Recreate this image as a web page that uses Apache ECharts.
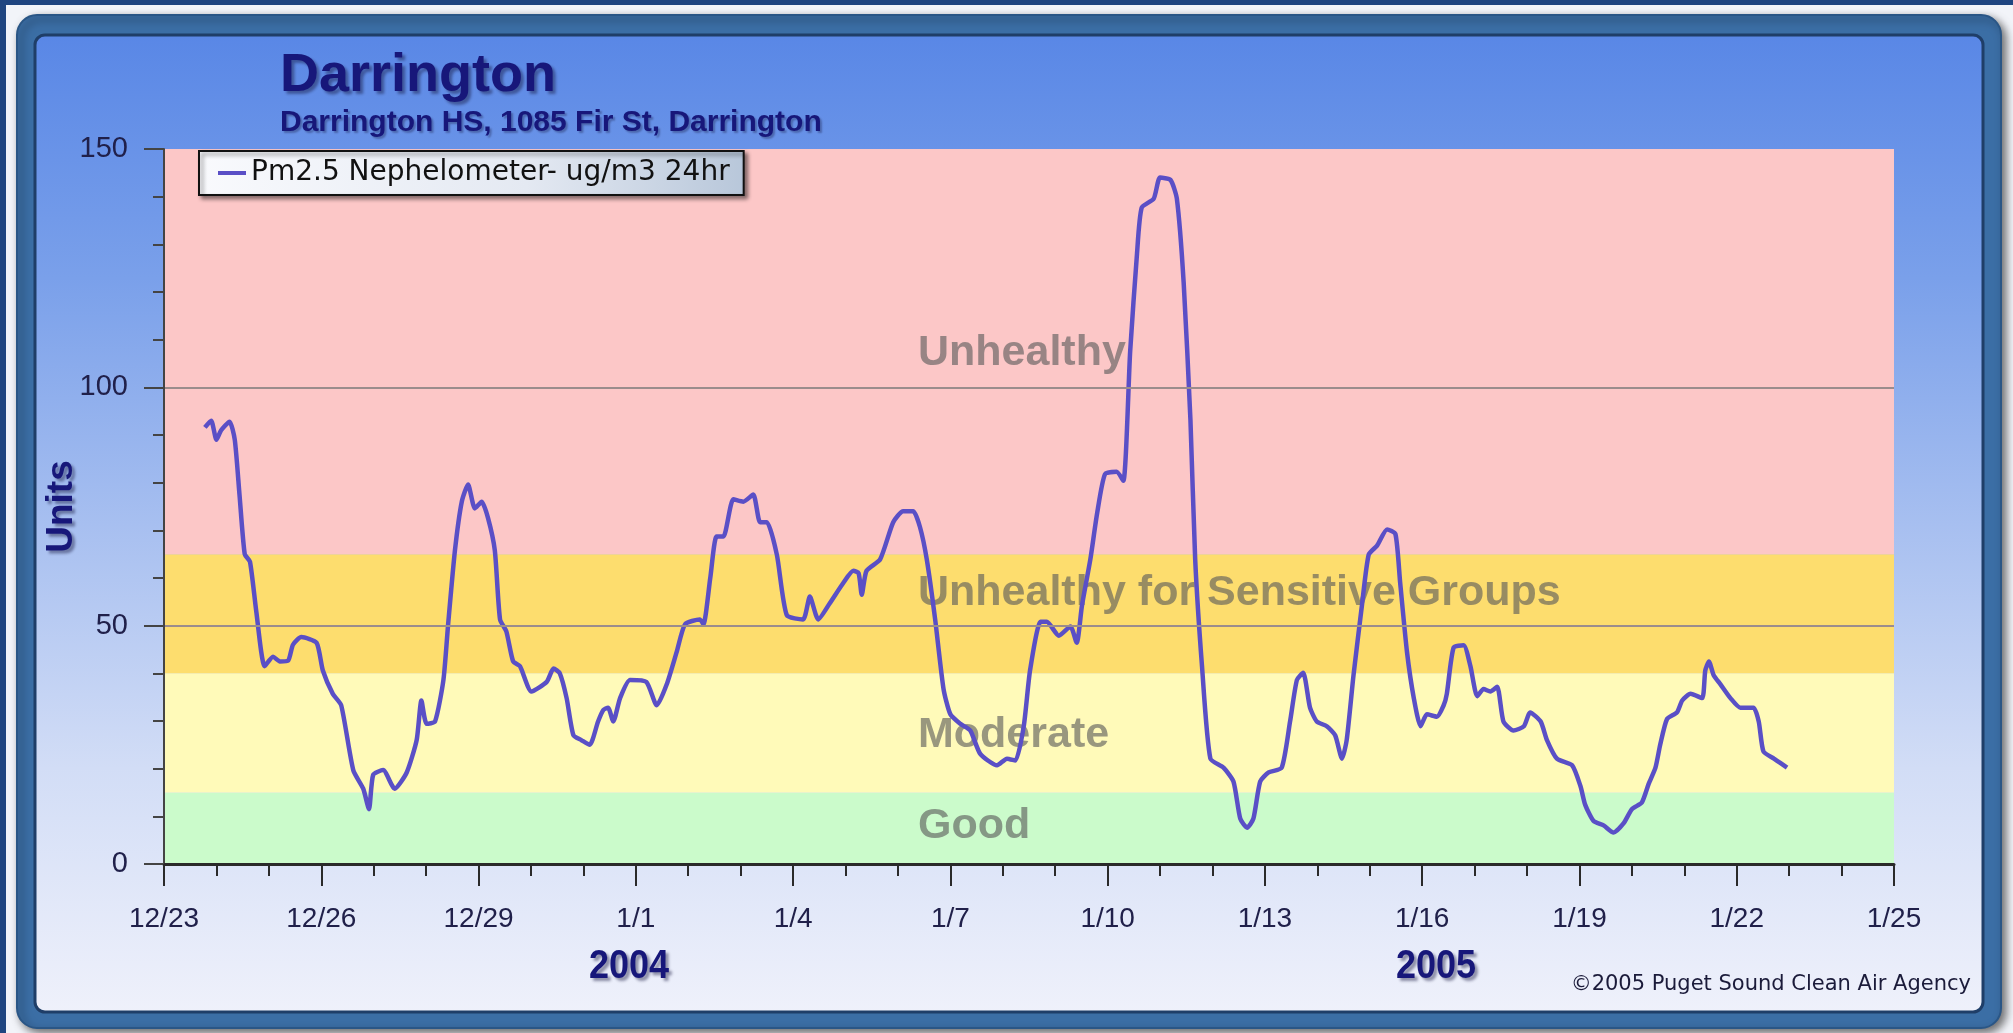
<!DOCTYPE html>
<html>
<head>
<meta charset="utf-8" />
<title>Darrington</title>
<script src="https://cdn.jsdelivr.net/npm/echarts@6/dist/echarts.min.js"></script>
<style>
  html, body { margin: 0; padding: 0; background: #1f4580; }
  #main { width: 2013px; height: 1033px; }
</style>
</head>
<body>
<div id="main"></div>
<script type="text/javascript">
// days counted from 12/23
var days = [
  0.78, 0.90, 1.00, 1.09, 1.25, 1.35, 1.44, 1.54, 1.64, 1.76,
  1.92, 2.08, 2.21, 2.37, 2.46, 2.62, 2.91, 3.03, 3.22, 3.38,
  3.61, 3.80, 3.91, 3.99, 4.18, 4.40, 4.63, 4.82, 4.91, 5.01,
  5.17, 5.33, 5.42, 5.55, 5.68, 5.80, 5.93, 6.06, 6.18, 6.31,
  6.41, 6.53, 6.66, 6.79, 7.01, 7.30, 7.43, 7.55, 7.68, 7.81,
  7.96, 8.12, 8.28, 8.38, 8.47, 8.57, 8.70, 8.89, 9.20, 9.40,
  9.59, 9.78, 9.94, 10.22, 10.29, 10.42, 10.54, 10.67, 10.86, 11.05,
  11.24, 11.37, 11.50, 11.69, 11.88, 12.19, 12.32, 12.48, 12.70, 12.96,
  13.15, 13.25, 13.31, 13.40, 13.66, 13.91, 14.10, 14.29, 14.42, 14.55,
  14.71, 14.87, 15.00, 15.19, 15.38, 15.57, 15.89, 16.08, 16.24, 16.40,
  16.52, 16.72, 16.84, 17.07, 17.29, 17.41, 17.51, 17.67, 17.80, 17.95,
  18.17, 18.30, 18.43, 18.56, 18.65, 18.88, 19.00, 19.20, 19.32, 19.45,
  19.58, 19.67, 19.80, 19.96, 20.21, 20.40, 20.53, 20.66, 20.78, 20.91,
  21.07, 21.32, 21.48, 21.61, 21.73, 21.86, 21.99, 22.18, 22.34, 22.47,
  22.56, 22.69, 22.85, 22.98, 23.14, 23.33, 23.49, 23.58, 23.71, 23.84,
  23.97, 24.09, 24.28, 24.41, 24.47, 24.60, 24.79, 24.92, 25.05, 25.17,
  25.30, 25.43, 25.55, 25.74, 25.94, 26.06, 26.26, 26.38, 26.57, 26.86,
  27.02, 27.11, 27.27, 27.46, 27.65, 27.84, 28.00, 28.19, 28.32, 28.45,
  28.54, 28.67, 28.86, 28.96, 29.12, 29.34, 29.40, 29.47, 29.56, 29.69,
  29.88, 30.07, 30.32, 30.42, 30.51, 30.71, 30.83, 30.96
];
var pm25 = [
  91.6, 93, 89, 91, 92.8, 89, 77.5, 65, 63.4, 53,
  41.5, 43.5, 42.5, 42.7, 46, 47.6, 46.4, 40.6, 35.7, 33.3,
  19.7, 15.8, 11.5, 18.7, 19.7, 15.8, 19.2, 26, 34.3, 29.4,
  29.9, 38.6, 50.3, 65.8, 76, 79.6, 74.6, 76, 72.6, 65.8,
  51.3, 48.8, 42.5, 41.5, 36.2, 38.2, 41, 40, 34.8, 27,
  26, 25, 29.9, 32.3, 32.8, 29.9, 34.8, 38.6, 38.2, 33.3,
  37.7, 44.5, 50.3, 51.3, 50.3, 60, 68.7, 68.7, 76.5, 76,
  77.5, 71.7, 71.7, 64.9, 52.2, 51.3, 56.1, 51.3, 54.7, 59,
  61.5, 61, 56.5, 61.5, 63.9, 71.7, 74, 74, 70.7, 63.9,
  51.3, 36.7, 31.4, 29.4, 28, 23.1, 20.7, 22.1, 21.7, 28.9,
  40.6, 50.8, 50.8, 47.9, 49.8, 46.4, 54.2, 63.9, 73.6, 81.8,
  82.3, 80.4, 107.6, 128, 137.7, 139.6, 144, 143.5, 139.6, 122,
  93, 63.9, 41.5, 22.1, 20.2, 17.3, 9.5, 7.6, 9.5, 17.3,
  19.2, 20.2, 29.9, 38.6, 40.1, 32.8, 29.9, 28.9, 27, 22.1,
  26, 39.6, 54.2, 64.9, 66.8, 70.2, 69.2, 59, 44.5, 34.8,
  28.9, 31.4, 30.9, 33.3, 35.7, 45.4, 45.9, 41.5, 35.2, 36.7,
  36.2, 37.2, 29.9, 28, 28.9, 31.8, 29.9, 26, 22.1, 20.7,
  16.3, 12.4, 9, 8.1, 6.6, 8.5, 11.5, 12.9, 16.8, 20.2,
  25, 30.4, 31.8, 34.3, 35.7, 34.8, 40.6, 42.5, 39.6, 37.7,
  34.8, 32.8, 32.8, 29.9, 23.6, 22.1, 21.2, 20.2
];
var xTickLabels = ['12/23', '12/26', '12/29', '1/1', '1/4', '1/7', '1/10', '1/13', '1/16', '1/19', '1/22', '1/25'];
var bandNames = ['Good', 'Moderate', 'Unhealthy for Sensitive Groups', 'Unhealthy'];
var bandBreaks = [0, 15, 40, 65, 150];
var refLines = [50, 100];
var yearLabels = ['2004', '2005'];
var seriesName = 'Pm2.5 Nephelometer- ug/m3 24hr';

var bandColors = ['#cbfbcb', '#fffab9', '#fddd6e', '#fcc7c7'];
var bandLabelShift = [-2, 2, -21, 2];
var lineColor = '#5a4fc6';
var navy = '#17177a';

var myChart = echarts.init(document.getElementById('main'));

var seriesData = days.map(function (d, i) { return [d, pm25[i]]; });

var bandAreas = bandNames.map(function (name, i) {
  return [
    { yAxis: bandBreaks[i], name: name, itemStyle: { color: bandColors[i], opacity: 1 },
      label: { offset: [749, bandLabelShift[i]] } },
    { yAxis: bandBreaks[i + 1] }
  ];
});

var shadowText = {
  textShadowColor: 'rgba(20,20,60,0.45)',
  textShadowBlur: 3,
  textShadowOffsetX: 3,
  textShadowOffsetY: 3
};

var option = {
  animation: false,
  graphic: [
    { type: 'rect', z: -100, shape: { x: 6, y: 5, width: 2013, height: 1033 },
      style: { fill: '#f2f4f9' } },
    { type: 'rect', z: -99, shape: { x: 17, y: 15, width: 1984, height: 1013, r: 20 },
      style: { fill: '#3b6ea5', stroke: '#2a5686', lineWidth: 2,
        shadowColor: 'rgba(0,0,0,0.55)', shadowBlur: 8, shadowOffsetX: 4, shadowOffsetY: 4 } },
    { type: 'rect', z: -98, shape: { x: 35, y: 35, width: 1948, height: 977, r: 10 },
      style: {
        fill: new echarts.graphic.LinearGradient(0, 0, 0, 1, [
          { offset: 0, color: '#5987e6' },
          { offset: 0.25, color: '#7aa0ea' },
          { offset: 0.5, color: '#a7bff0' },
          { offset: 0.75, color: '#d2ddf6' },
          { offset: 1, color: '#eff1fb' }
        ]),
        stroke: '#1f3e68', lineWidth: 3
      } },
    { type: 'text', z: 100, x: 280, y: 76,
      style: Object.assign({ text: 'Darrington', fill: navy, fontSize: 54, fontWeight: 'bold',
        fontFamily: 'Liberation Sans', verticalAlign: 'middle' }, shadowText) },
    { type: 'text', z: 100, x: 280, y: 123,
      style: Object.assign({ text: 'Darrington HS, 1085 Fir St, Darrington', fill: navy, fontSize: 30,
        fontWeight: 'bold', fontFamily: 'Liberation Sans', verticalAlign: 'middle' }, {
          textShadowColor: 'rgba(20,20,60,0.35)', textShadowBlur: 2, textShadowOffsetX: 2, textShadowOffsetY: 2 }) },
    { type: 'text', z: 100, x: 629, y: 967, scaleX: 0.9,
      style: Object.assign({ text: yearLabels[0], fill: navy, fontSize: 40, fontWeight: 'bold',
        fontFamily: 'Liberation Sans', align: 'center', verticalAlign: 'middle' }, shadowText) },
    { type: 'text', z: 100, x: 1436, y: 967, scaleX: 0.9,
      style: Object.assign({ text: yearLabels[1], fill: navy, fontSize: 40, fontWeight: 'bold',
        fontFamily: 'Liberation Sans', align: 'center', verticalAlign: 'middle' }, shadowText) },
    { type: 'text', z: 100, x: 1971, y: 985,
      style: { text: '\u00a92005 Puget Sound Clean Air Agency', fill: '#1b1b3a', fontSize: 21,
        fontFamily: 'DejaVu Sans', align: 'right', verticalAlign: 'middle' } }
  ],
  grid: { left: 164, right: 119, top: 149, bottom: 169 },
  legend: {
    left: 199, top: 151,
    data: [seriesName],
    icon: 'rect', itemWidth: 28, itemHeight: 4, itemGap: 0, itemTextGap: 26,
    padding: [8, 14, 8, 19],
    backgroundColor: new echarts.graphic.LinearGradient(0, 0, 1, 0, [
      { offset: 0, color: '#f9fafd' },
      { offset: 0.6, color: '#e4e9f2' },
      { offset: 1, color: '#b8c7da' }
    ]),
    borderColor: '#111', borderWidth: 2,
    shadowColor: 'rgba(0,0,0,0.45)', shadowBlur: 4, shadowOffsetX: 3, shadowOffsetY: 3,
    textStyle: { fontFamily: 'DejaVu Sans', fontSize: 28, color: '#111' }
  },
  xAxis: {
    type: 'value', min: 0, max: 33, interval: 3, z: 10,
    axisLine: { show: true, onZero: false, lineStyle: { color: '#2a2a2a', width: 3 } },
    axisTick: { show: true, length: 22, lineStyle: { color: '#2a2a2a', width: 2 } },
    minorTick: { show: true, splitNumber: 3, length: 12, lineStyle: { color: '#2a2a2a', width: 2 } },
    splitLine: { show: false },
    axisLabel: {
      margin: 41, fontSize: 28, color: '#20204a', fontFamily: 'Liberation Sans',
      formatter: function (v) { return xTickLabels[Math.round(v / 3)]; }
    }
  },
  yAxis: {
    type: 'value', min: 0, max: 150, interval: 50, z: 10,
    name: 'Units', nameLocation: 'middle', nameGap: 84, nameRotate: 90, nameMoveOverlap: false,
    nameTextStyle: Object.assign({ fontSize: 37, fontWeight: 'bold', color: navy,
      fontFamily: 'Liberation Sans' }, shadowText),
    axisLine: { show: true, lineStyle: { color: '#444', width: 2 } },
    axisTick: { show: true, length: 20, lineStyle: { color: '#444', width: 2 } },
    minorTick: { show: true, splitNumber: 5, length: 11, lineStyle: { color: '#444', width: 2 } },
    splitLine: { show: false },
    axisLabel: { margin: 36, fontSize: 29, color: '#20204a', fontFamily: 'Liberation Sans' }
  },
  series: [{
    name: seriesName,
    type: 'line',
    data: seriesData,
    showSymbol: false,
    smooth: 0.2,
    color: lineColor,
    lineStyle: { color: lineColor, width: 4.5 },
    markArea: {
      silent: true,
      label: {
        show: true, position: 'insideLeft', distance: 5,
        color: 'rgba(90,90,90,0.62)', fontSize: 43, fontWeight: 'bold', fontFamily: 'Liberation Sans'
      },
      data: bandAreas
    },
    markLine: {
      silent: true, symbol: ['none', 'none'],
      label: { show: false },
      lineStyle: { color: '#9b8c8c', width: 2, type: 'solid' },
      data: refLines.map(function (v) { return { yAxis: v }; })
    }
  }]
};
myChart.setOption(option);
</script>
</body>
</html>
